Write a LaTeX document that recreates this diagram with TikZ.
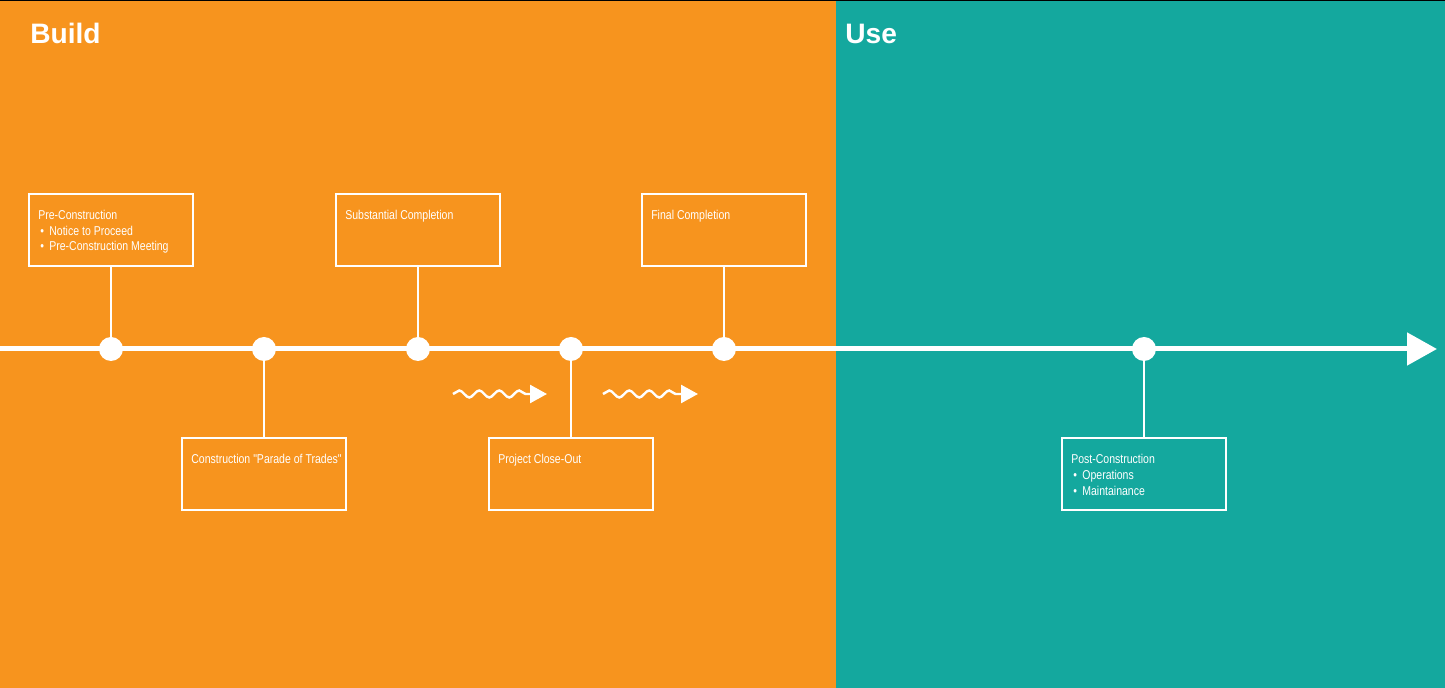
\documentclass[tikz,border=0pt]{standalone}
\usepackage{fontspec}
\setmainfont{Liberation Sans}
\newfontfamily\boxfont{Liberation Sans}[FakeStretch=0.82]
\usetikzlibrary{positioning,arrows.meta,decorations.pathmorphing}
\definecolor{buildorange}{HTML}{F7941E}
\definecolor{useteal}{HTML}{14A89E}
\newcommand{\stagebullet}{\hspace*{1.2pt}\textbullet\hspace{3pt}}
\tikzset{
    milestone/.style={circle,fill=white,inner sep=0pt,minimum size=0.48cm},
    stagebox/.style={draw=white,line width=1.2pt,minimum width=3.28cm,minimum height=1.44cm,inner sep=0pt},
    stagetext/.style={anchor=north west,inner sep=0pt,align=left,text=white,
        font=\boxfont\fontsize{7.3pt}{9pt}\selectfont},
    wire/.style={white,line width=1.2pt},
    phase/.style={anchor=base west,text=white,inner sep=0pt,font=\bfseries\fontsize{16pt}{18pt}\selectfont},
    wave/.style={white,line width=1.4pt,-{Triangle[length=0.34cm,width=0.36cm]},
        decorate,decoration={snake,amplitude=0.07cm,segment length=0.4cm,post length=0.36cm}}
}
\begin{document}
\begin{tikzpicture}[x=0.02cm,y=-0.02cm]
    \useasboundingbox (0,0) rectangle (1445,688);

    % background areas
    \fill[buildorange] (0,0) rectangle (836,688);
    \fill[useteal] (836,0) rectangle (1445,688);
    \fill[black] (0,0) rectangle (1445,1.5);

    \node[phase] (build) at (30,44) {Build};
    \node[phase] (use) at (845,44) {Use};

    % time axis
    \coordinate (t0) at (0,349);
    \coordinate (t1) at (1437,349);
    \draw[white,line width=0.1cm,-{Triangle[length=0.6cm,width=0.64cm]}] (t0) -- (t1);

    % milestones
    \node[milestone] (d1) at (111,349) {};
    \node[milestone] (d2) at (264,349) {};
    \node[milestone] (d3) at (418,349) {};
    \node[milestone] (d4) at (571,349) {};
    \node[milestone] (d5) at (724,349) {};
    \node[milestone] (d6) at (1144,349) {};

    % boxes above the axis
    \node[stagebox,above=1.4cm of d1] (b1) {};
    \node[stagebox,above=1.4cm of d3] (b3) {};
    \node[stagebox,above=1.4cm of d5] (b5) {};

    % boxes below the axis
    \node[stagebox,below=1.52cm of d2] (b2) {};
    \node[stagebox,below=1.52cm of d4] (b4) {};
    \node[stagebox,below=1.52cm of d6] (b6) {};

    \foreach \i in {1,...,6}
        \draw[wire] (b\i) -- (d\i);

    % box texts
    \node[stagetext] (s1) at ([xshift=0.2cm,yshift=-0.34cm]b1.north west)
        {Pre-Construction\\\stagebullet Notice to Proceed\\\stagebullet Pre-Construction Meeting};
    \node[stagetext] (s2) at ([xshift=0.2cm,yshift=-0.34cm]b2.north west)
        {Construction "Parade of Trades"};
    \node[stagetext] (s3) at ([xshift=0.2cm,yshift=-0.34cm]b3.north west)
        {Substantial Completion};
    \node[stagetext] (s4) at ([xshift=0.2cm,yshift=-0.34cm]b4.north west)
        {Project Close-Out};
    \node[stagetext] (s5) at ([xshift=0.2cm,yshift=-0.34cm]b5.north west)
        {Final Completion};
    \node[stagetext] (s6) at ([xshift=0.2cm,yshift=-0.34cm]b6.north west)
        {Post-Construction\\\stagebullet Operations\\\stagebullet Maintainance};

    % wavy arrows
    \coordinate (w1s) at (453,394);
    \coordinate (w1e) at (547,394);
    \coordinate (w2s) at (603,394);
    \coordinate (w2e) at (698,394);
    \draw[wave] (w1s) -- (w1e);
    \draw[wave] (w2s) -- (w2e);
\end{tikzpicture}
\end{document}
